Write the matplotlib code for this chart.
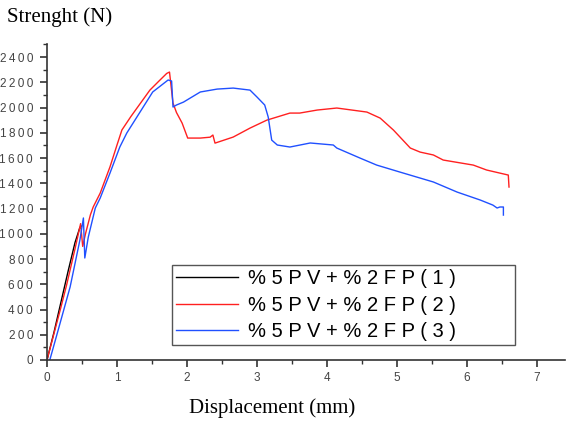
import matplotlib
matplotlib.use("Agg")
import matplotlib.pyplot as plt
from matplotlib.ticker import MultipleLocator, FuncFormatter

# Series 1 (black)
x1 = [0.0, 0.1, 0.2, 0.3, 0.4, 0.47, 0.49]
y1 = [0, 220, 460, 700, 930, 1050, 1060]

# Series 2 (red)
x2 = [0.0, 0.1, 0.2, 0.28, 0.4, 0.48, 0.51, 0.55, 0.62, 0.66, 0.76, 0.9, 1.0, 1.07, 1.2, 1.47,
      1.6, 1.71, 1.75, 1.8, 1.85, 1.93, 2.01, 2.19, 2.33, 2.37, 2.4, 2.66, 2.9, 3.14, 3.47,
      3.61, 3.86, 4.14, 4.57, 4.76, 4.95, 5.19, 5.33, 5.52, 5.66, 6.09, 6.28, 6.59, 6.6]
y2 = [0, 210, 420, 594, 880, 1080, 900, 1000, 1150, 1212, 1322, 1530, 1703, 1822, 1930, 2138,
      2210, 2270, 2281, 2035, 1960, 1877, 1758, 1758, 1765, 1782, 1718, 1766, 1837, 1900, 1956,
      1956, 1980, 1996, 1964, 1916, 1821, 1679, 1647, 1624, 1584, 1544, 1505, 1465, 1370]

# Series 3 (blue)
x3 = [0.04, 0.16, 0.33, 0.47, 0.52, 0.54, 0.59, 0.69, 0.76, 0.9, 1.04, 1.14, 1.51, 1.73, 1.78,
      1.8, 1.85, 1.95, 2.19, 2.43, 2.66, 2.9, 3.0, 3.11, 3.16, 3.21, 3.29, 3.47, 3.76, 4.09,
      4.14, 4.47, 4.71, 5.04, 5.52, 5.86, 6.19, 6.37, 6.43, 6.47, 6.52, 6.52]
y3 = [0, 238, 578, 950, 1125, 808, 974, 1204, 1283, 1481, 1687, 1798, 2123, 2218, 2210,
      2004, 2020, 2043, 2123, 2146, 2154, 2138, 2083, 2020, 1925, 1742, 1703, 1687, 1719, 1703,
      1679, 1600, 1544, 1489, 1410, 1330, 1267, 1227, 1204, 1212, 1212, 1148]

labels = ["% 5 P V + % 2 F P ( 1 )", "% 5 P V + % 2 F P ( 2 )", "% 5 P V + % 2 F P ( 3 )"]

fig = plt.figure(figsize=(5.7, 4.21), dpi=100)
ax = fig.add_axes([47/570, 61/421, 7.4*70/570, 315.6/421])

ax.plot(x1, y1, color="black", lw=1.0, label=labels[0])
ax.plot(x2, y2, color="#ff2020", lw=1.0, label=labels[1])
ax.plot(x3, y3, color="#2050ff", lw=1.0, label=labels[2])

ax.set_xlim(0, 7.4)
ax.set_ylim(0, 2500)
for s in ["top", "right"]:
    ax.spines[s].set_visible(False)
for s in ["left", "bottom"]:
    ax.spines[s].set_color("#333333")
    ax.spines[s].set_linewidth(1.2)

ax.xaxis.set_major_locator(MultipleLocator(1))
ax.xaxis.set_minor_locator(MultipleLocator(0.5))
ax.yaxis.set_major_locator(MultipleLocator(200))
ax.yaxis.set_minor_locator(MultipleLocator(100))
ax.tick_params(which="major", direction="out", length=5, width=1.2, color="#333333",
               labelsize=8.5, labelcolor="#444444")
ax.tick_params(axis="y", which="major", pad=5)
ax.tick_params(which="minor", direction="out", length=3, width=1.0, color="#333333")

spaced = lambda v, p: "\u2009".join(str(int(round(v))))
ax.yaxis.set_major_formatter(FuncFormatter(spaced))
ax.xaxis.set_major_formatter(FuncFormatter(lambda v, p: str(int(round(v)))))
for lab in ax.get_yticklabels() + ax.get_xticklabels():
    lab.set_family(["Liberation Sans", "DejaVu Sans"])

leg = ax.legend(loc="lower left", bbox_to_anchor=(0.241, 0.0475, 0.662, 0.254), mode="expand",
                borderaxespad=0, fancybox=False, edgecolor="#555555", framealpha=1,
                handlelength=3.1, handletextpad=0.5, labelspacing=0.36, borderpad=0.2,
                prop={"family": "Liberation Sans", "size": 14.5})
leg.get_frame().set_linewidth(1.0)

fig.text(7/570, 1-17/421, "Strenght (N)", family="Liberation Serif", fontsize=15,
         ha="left", va="center")
fig.text(272/570, 1-408/421, "Displacement (mm)", family="Liberation Serif", fontsize=15,
         ha="center", va="center")

fig.savefig("out.png", dpi=100)
